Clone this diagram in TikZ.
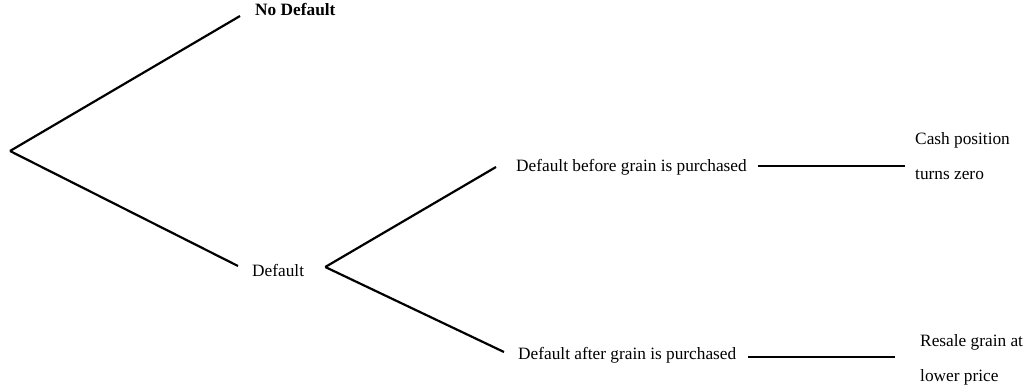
\documentclass[tikz,border=0pt]{standalone}
\usepackage{fontspec}
\setmainfont{Liberation Serif}
\usepackage{tikz}
\tikzstyle{branch} = [draw, line width=2.2pt]
\tikzstyle{lbl} = [inner sep=0pt, anchor=west, font=\fontsize{17.3}{35}\selectfont]

\begin{document}
\begin{tikzpicture}[x=1pt,y=-1pt]
    \useasboundingbox (0,0) rectangle (1028,389);

        \coordinate (root) at (10,151);
        \node[lbl,font=\fontsize{17.3}{35}\selectfont\bfseries] (nodef) at (255,10) {No Default};
        \node[lbl] (def) at (252,270) {Default};

        \node[lbl] (before) at (516,167) {Default before grain is purchased};
        \node[lbl] (after) at (518,355) {Default after grain is purchased};

        \node[lbl,align=left] (cash) at (915,156.5) {Cash position\\turns zero};
        \node[lbl,align=left] (resale) at (920,360) {Resale grain at\\lower price};

    % first split
    \draw[branch] (root) -- ([xshift=-15pt,yshift=-6pt]nodef.west);
    \draw[branch] (root) -- ([xshift=-14pt,yshift=4pt]def.west);

    % second split
    \coordinate (split) at ([xshift=21pt,yshift=3pt]def.east);
    \draw[branch] (split) -- ([xshift=-20pt]before.west);
    \draw[branch] (split) -- ([xshift=-14pt,yshift=3pt]after.west);

    % outcomes
    \draw[branch] ([xshift=11pt,yshift=1pt]before.east) -- ([xshift=-10pt,yshift=-9.5pt]cash.west);
    \draw[branch] ([xshift=12pt,yshift=-2pt]after.east) -- ([xshift=-25pt,yshift=3pt]resale.west);

\end{tikzpicture}
\end{document}
